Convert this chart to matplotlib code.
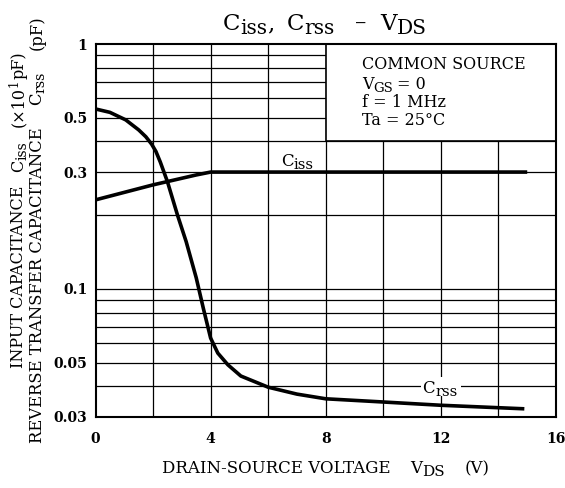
import matplotlib
matplotlib.use("Agg")
import matplotlib.pyplot as plt
from matplotlib.patches import Rectangle

plt.rcParams['font.family'] = ['DejaVu Serif']

# Data
ciss_vds = [0, 2, 3.5, 4, 15]
ciss_val = [0.231, 0.266, 0.292, 0.3, 0.3]   # x10 pF

crss_vds = [0, 0.5, 1.05, 1.5, 1.75, 1.95, 2.1, 2.25, 2.5, 2.85, 3.15, 3.5, 3.75, 4.0,
            4.25, 4.6, 5.05, 6, 7, 8, 9.7, 12, 14.9]
crss_val = [0.543, 0.526, 0.49, 0.446, 0.418, 0.39, 0.364, 0.33, 0.274, 0.200, 0.156,
            0.111, 0.083, 0.063, 0.0547, 0.049, 0.0441, 0.0397, 0.0372, 0.0356, 0.0347,
            0.0335, 0.0324]

x_ticks = [0, 4, 8, 12, 16]
y_ticks = [0.03, 0.05, 0.1, 0.3, 0.5, 1]
y_tick_labels = ["0.03", "0.05", "0.1", "0.3", "0.5", "1"]
v_grid = [2, 4, 6, 8, 10, 12, 14]
h_grid = [0.04, 0.05, 0.06, 0.07, 0.08, 0.09, 0.1, 0.2, 0.3, 0.4, 0.5, 0.6, 0.7, 0.8, 0.9]

W, H = 565, 488
fig = plt.figure(figsize=(W / 100, H / 100), dpi=100)
ax = fig.add_axes([95.5 / W, 1 - 417 / H, (556 - 95.5) / W, (417 - 44) / H])
ax.set_yscale('log')
ax.set_xlim(0, 16)
ax.set_ylim(0.03, 1)

renderer = fig.canvas.get_renderer()


def rich(x_px, y_px, pieces, rot=0, center=True, zorder=5):
    """pieces: (text, size, shift_px) or (None, gap_px). y_px from bottom."""
    widths = []
    for p in pieces:
        if p[0] is None:
            widths.append(p[1])
            continue
        t = fig.text(0, 0, p[0], fontsize=p[1])
        widths.append(t.get_window_extent(renderer).width)
        t.remove()
    pos = -sum(widths) / 2 if center else 0
    for p, w in zip(pieces, widths):
        if p[0] is not None:
            shift = p[2]
            if rot == 0:
                px, py = x_px + pos, y_px - shift
            else:
                px, py = x_px + shift, y_px + pos
            fig.text(px / W, py / H, p[0], fontsize=p[1], rotation=rot,
                     rotation_mode='anchor', ha='left', va='baseline', zorder=zorder)
        pos += w


for xv in v_grid:
    ax.axvline(xv, color='black', lw=0.9, zorder=1)
for yv in h_grid:
    ax.axhline(yv, color='black', lw=0.9, zorder=1)

# condition box
ax.add_patch(Rectangle((8, 0.4), 8, 0.6, facecolor='white', edgecolor='black',
                       lw=1.2, zorder=2))
bx = 362
rich(bx, H - 69, [("COMMON SOURCE", 11.5, 0)], center=False)
rich(bx, H - 89, [("V", 11.5, 0), ("GS", 9.5, 3), (None, 4), ("= 0", 11.5, 0)], center=False)
rich(bx, H - 107, [("f = 1 MHz", 11.5, 0)], center=False)
rich(bx, H - 125, [("Ta = 25°C", 11.5, 0)], center=False)

ax.plot(ciss_vds, ciss_val, color='black', lw=2.6, zorder=3, solid_capstyle='butt')
ax.plot(crss_vds, crss_val, color='black', lw=2.6, zorder=3, solid_capstyle='butt')

# curve labels with white background
ax.text(7.0, 0.34, "       ", fontsize=12, ha='center', va='center',
        bbox=dict(facecolor='white', edgecolor='none', pad=1), zorder=4)
rich(297, H - 166, [("C", 12, 0), ("iss", 10.5, 3)], zorder=5)
ax.text(12.0, 0.04, "       ", fontsize=12, ha='center', va='center',
        bbox=dict(facecolor='white', edgecolor='none', pad=1), zorder=4)
rich(440, H - 393, [("C", 12, 0), ("rss", 10.5, 3)], zorder=5)

ax.set_xticks(x_ticks)
ax.set_xticklabels([str(v) for v in x_ticks], fontsize=10, fontweight='bold')
ax.set_yticks(y_ticks)
ax.set_yticklabels(y_tick_labels, fontsize=10, fontweight='bold')
ax.yaxis.set_minor_locator(matplotlib.ticker.NullLocator())
ax.tick_params(axis='y', length=0, pad=6)
ax.tick_params(axis='x', length=0, pad=11)
for s in ax.spines.values():
    s.set_linewidth(1.5)

# title
rich(325, H - 30, [("C", 16.5, 0), ("iss", 14.5, 4), (", ", 16.5, 0), (None, 5), ("C", 16.5, 0),
                   ("rss", 14.5, 4), (None, 20), ("–", 16.5, 0), (None, 14),
                   ("V", 16.5, 0), ("DS", 14.5, 4)])
# x label
rich(326, H - 473, [("DRAIN-SOURCE VOLTAGE", 12, 0), (None, 20), ("V", 12, 0),
                    ("DS", 11, 3.5), (None, 20), ("(V)", 12, 0)])
# y labels
rich(23, 278, [("INPUT CAPACITANCE", 11.5, 0), (None, 14), ("C", 11.5, 0), ("iss", 10, 3),
               (None, 14), ("(×10", 11.5, 0), ("1", 8.5, -5), ("pF)", 11.5, 0)], rot=90)
rich(41.5, 259, [("REVERSE TRANSFER CAPACITANCE", 11.8, 0), (None, 22), ("C", 11.8, 0),
                 ("rss", 10.3, 3), (None, 22), ("(pF)", 11.8, 0)], rot=90)

fig.savefig("out.png", dpi=100)
